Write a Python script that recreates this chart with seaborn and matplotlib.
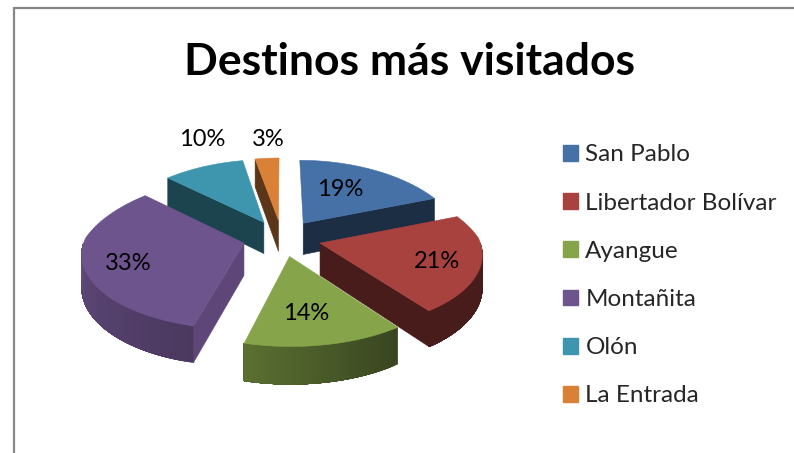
import numpy as np
import matplotlib
matplotlib.use("Agg")
import matplotlib.pyplot as plt
import seaborn as sns
from matplotlib.patches import Patch

destinos = ["San Pablo", "Libertador Bolívar", "Ayangue", "Montañita", "Olón", "La Entrada"]
porcentajes = [19, 21, 14, 33, 10, 3]
titulo = "Destinos más visitados"

colores = ["#4571a7", "#a8423f", "#86a44a", "#6e548d", "#3d96ae", "#da8138"]
# how dark the cut face of each slice is
sombra_corte = [0.41, 0.42, 0.42, 0.85, 0.45, 0.42]
label_xy = [(340, 190), (437, 261), (306, 314), (128, 263), (202, 139), (268, 139)]

# projection of the tilted pie, in pixels
cx, cy = 282, 238
rx, ky = 159, 74
persp = 0.1226
persp_atras = 0.2  # x narrows faster towards the back
explode = 0.247
depth = 32

sns.set_theme(style="white")
plt.rcParams["font.family"] = ["Lato", "DejaVu Sans"]


def proj(x, y, z=0):
    s = 1 / (1 - persp * y)
    sx = 1 / (1 - persp_atras * y) if y < 0 else s
    return cx + rx * x * sx, cy + ky * y * s + depth * z * s


def rim(ax0, ay0, th):
    t = np.radians(th)
    return ax0 + np.sin(t), ay0 - np.cos(t)


def rim_shade(th):
    return np.interp(th, [90, 144, 194, 270], [0.42, 0.42, 0.68, 0.88])


def shade(col, f):
    return tuple(c * f for c in matplotlib.colors.to_rgb(col))


def poly(ax, pts, col, z):
    xs, ys = zip(*pts)
    ax.fill(xs, ys, color=col, lw=0.4, zorder=z)


fig = plt.figure(figsize=(7.94, 4.53), dpi=100)
ax = fig.add_axes([0, 0, 1, 1])
ax.set_xlim(0, 794)
ax.set_ylim(453, 0)
ax.axis("off")

fin = np.cumsum(porcentajes) * 3.6
ini = fin - np.array(porcentajes) * 3.6
mid = (ini + fin) / 2
apex_x = explode * np.sin(np.radians(mid))
apex_y = -explode * np.cos(np.radians(mid))

# back slices first so the nearer ones cover them
orden = np.argsort(apex_y)
for z, i in enumerate(orden):
    a, b = ini[i], fin[i]
    ax0, ay0 = apex_x[i], apex_y[i]
    zo = 2 + z

    # cut faces
    for th, visible in [(b, 0 < b < 180), (a, 180 < a < 360)]:
        if visible:
            ex, ey = rim(ax0, ay0, th)
            cara = [proj(ax0, ay0), proj(ex, ey), proj(ex, ey, 1), proj(ax0, ay0, 1)]
            poly(ax, cara, shade(colores[i], sombra_corte[i]), zo)

    # outer wall, shaded along the rim: each band runs to the end of the wall
    # and the next one paints over it, so no seams show
    lo, hi = max(a, 90), min(b, 270)
    if lo < hi:
        ths = np.linspace(lo, hi, 40)
        for t0 in ths[:-1]:
            arco = np.linspace(t0, hi, 40)
            arriba = [proj(*rim(ax0, ay0, t)) for t in arco]
            abajo = [proj(*rim(ax0, ay0, t), 1) for t in arco[::-1]]
            poly(ax, arriba + abajo, shade(colores[i], rim_shade(t0)), zo)

    # top of the slice
    ths = np.linspace(a, b, 80)
    pts = [proj(ax0, ay0)] + [proj(*rim(ax0, ay0, t)) for t in ths]
    poly(ax, pts, colores[i], zo)

for v, (lx, ly) in zip(porcentajes, label_xy):
    ax.text(lx, ly, f"{v}%", fontsize=17, color="black", ha="center", va="center", zorder=20)

ax.text(409, 62, titulo, fontsize=32, fontweight="bold", color="black", ha="center", va="center")

handles = [Patch(color=c, label=d) for c, d in zip(colores, destinos)]
ax.legend(handles=handles, loc="upper left", bbox_to_anchor=(556, 137), bbox_transform=ax.transData,
          frameon=False, fontsize=17.5, handlelength=0.62, handleheight=0.62, handletextpad=0.29,
          labelspacing=1.12, borderpad=0.3, borderaxespad=0)

# chart frame, cut by the screenshot on the right and bottom
ax.plot([14, 14, 794], [453, 8, 8], color="#868686", lw=1.6, solid_joinstyle="miter")

fig.savefig("out.png", dpi=100)
